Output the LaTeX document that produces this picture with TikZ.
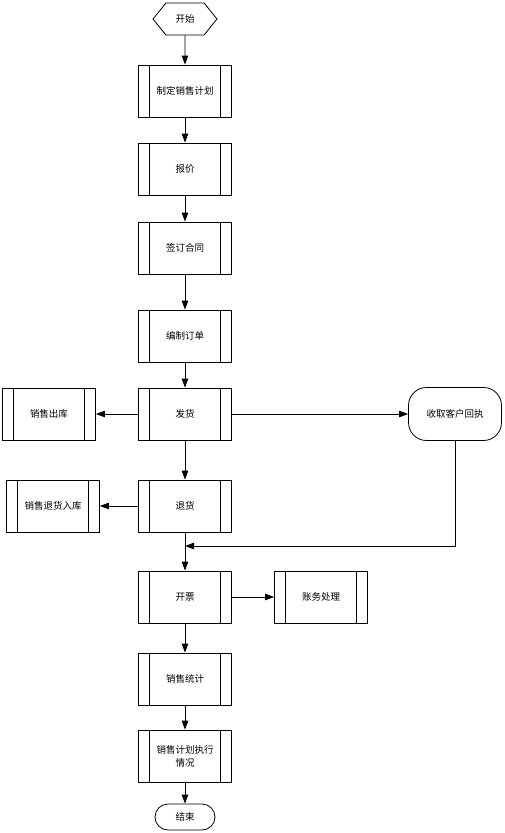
\documentclass[tikz,border=0pt]{standalone}
\usepackage{fontspec}
\setmainfont{Noto Sans CJK SC}
\usetikzlibrary{shapes.symbols,arrows.meta}

\tikzset{
	proc/.style={draw, thick, minimum width=93pt, minimum height=52pt, inner sep=1pt, align=center,
		path picture={
			\draw ([xshift=11pt]path picture bounding box.north west) -- ([xshift=11pt]path picture bounding box.south west);
			\draw ([xshift=-11pt]path picture bounding box.north east) -- ([xshift=-11pt]path picture bounding box.south east);
		}},
	arr/.style={-{Triangle[length=9pt,width=6.5pt]}, thick}
}

\begin{document}
\begin{tikzpicture}[x=1pt, y=-1pt, every node/.style={font=\fontsize{9.5}{13}\selectfont}]
	\useasboundingbox (0,0) rectangle (505,833);
	% main column
	\node[draw, thick, signal, signal to=west and east, signal pointer angle=102, minimum width=64pt, minimum height=32pt, inner sep=0pt] (start) at (185,19) {开始};
	\node[proc] (plan) at (185,91) {制定销售计划};
	\node[proc] (quote) at (185,169) {报价};
	\node[proc] (contract) at (185,248) {签订合同};
	\node[proc] (order) at (185,336) {编制订单};
	\node[proc] (ship) at (185,414) {发货};
	\node[proc] (ret) at (185,506) {退货};
	\node[proc] (invoice) at (185,597) {开票};
	\node[proc] (stat) at (185,679) {销售统计};
	\node[proc, text width=70pt] (exec) at (185,756) {销售计划执行\\情况};
	\node[draw, thick, rounded corners=13pt, minimum width=60pt, minimum height=26pt] (stop) at (185,817) {结束};
	% side boxes
	\node[proc] (outst) at (49,414) {销售出库};
	\node[proc] (retin) at (53,506) {销售退货入库};
	\node[proc] (acct) at (321,597) {账务处理};
	\node[draw, thick, rounded corners=18pt, minimum width=93pt, minimum height=53pt] (receipt) at (455,414) {收取客户回执};
	\coordinate (m) at (185,546);

	\draw[arr] (start) -- (plan);
	\draw[arr] (plan) -- (quote);
	\draw[arr] (quote) -- (contract);
	\draw[arr] (contract) -- (order);
	\draw[arr] (order) -- (ship);
	\draw[arr] (ship) -- (ret);
	\draw[arr] (ship) -- (outst);
	\draw[arr] (ship) -- (receipt);
	\draw[arr] (ret) -- (retin);
	\draw[arr] (ret) -- (invoice);
	\draw[arr] (receipt.south) |- (m);
	\draw[arr] (invoice) -- (acct);
	\draw[arr] (invoice) -- (stat);
	\draw[arr] (stat) -- (exec);
	\draw[arr] (exec) -- (stop);
\end{tikzpicture}
\end{document}
